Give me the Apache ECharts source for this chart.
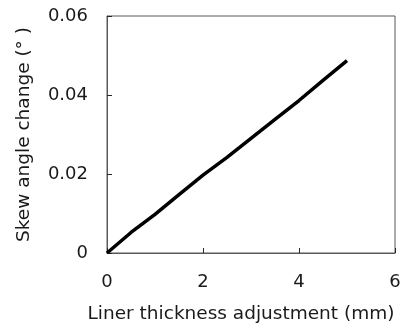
<!DOCTYPE html>
<html><head><meta charset="utf-8">
<script src="https://cdn.jsdelivr.net/npm/echarts@6/dist/echarts.min.js"></script>
<style>html,body{margin:0;padding:0;background:#fff}#c{width:406px;height:329px}</style>
</head><body><div id="c"></div>
<script>
const thickness = [0, 0.5, 1, 1.5, 2, 2.5, 3, 3.5, 4, 4.5, 5];
const skewChange = [0, 0.0052, 0.0098, 0.0148, 0.0197, 0.0242, 0.0290, 0.0338, 0.0386, 0.0437, 0.0487];
const xTicks = [0, 2, 4, 6];
const yTicks = [0, 0.02, 0.04, 0.06];
const xName = 'Liner thickness adjustment (mm)';
const yName = 'Skew angle change (° )';

const font = '"DejaVu Sans", sans-serif';
const chart = echarts.init(document.getElementById('c'), null, {renderer: 'canvas'});
chart.setOption({
  animation: false,
  grid: {left: 107, right: 11, top: 16, bottom: 74, show: true, borderColor: '#595959', borderWidth: 1, backgroundColor: '#fff'},
  xAxis: {
    type: 'value', min: 0, max: 6, interval: 2,
    name: xName, nameLocation: 'middle', nameGap: 52,
    nameTextStyle: {fontFamily: font, fontSize: 18.5, color: '#1a1a1a', padding: [0, 20, 0, 0]},
    axisLine: {show: true, lineStyle: {color: '#595959', width: 1}},
    axisTick: {show: true, inside: true, length: 5, lineStyle: {color: '#262626'}},
    splitLine: {show: false},
    axisLabel: {fontFamily: font, fontSize: 18, color: '#1a1a1a', margin: 20, formatter: v => xTicks.includes(v) ? String(v) : ''}
  },
  yAxis: {
    type: 'value', min: 0, max: 0.06, interval: 0.02,
    name: yName, nameLocation: 'middle', nameGap: 73,
    nameTextStyle: {fontFamily: font, fontSize: 18.5, color: '#1a1a1a'},
    axisLine: {show: true, lineStyle: {color: '#595959', width: 1}},
    axisTick: {show: true, inside: true, length: 5, lineStyle: {color: '#262626'}},
    splitLine: {show: false},
    axisLabel: {fontFamily: font, fontSize: 18, color: '#1a1a1a', margin: 19, formatter: v => { const t = yTicks.find(y => Math.abs(y - v) < 1e-9); return t === undefined ? '' : (t === 0 ? '0' : t.toFixed(2)); }}
  },
  series: [{
    type: 'line', data: thickness.map((x, i) => [x, skewChange[i]]),
    showSymbol: false, lineStyle: {color: '#000', width: 3.5}
  }]
});
</script></body></html>
